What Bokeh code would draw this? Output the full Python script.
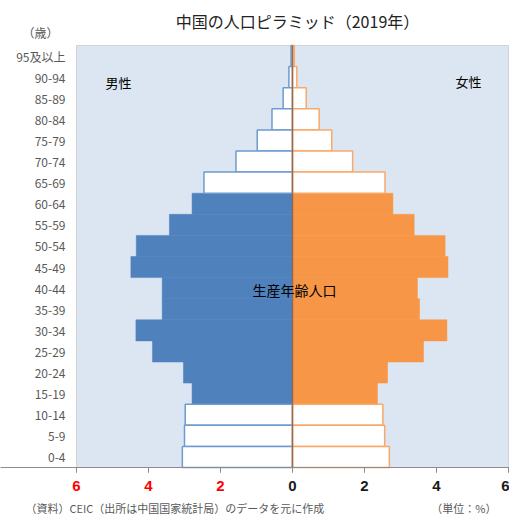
from bokeh.plotting import figure
from bokeh.models import (ColumnDataSource, Range1d, FixedTicker, LinearAxis,
                          Label, BoxAnnotation)
from bokeh.embed import file_html
from bokeh.resources import INLINE

# ---- data (top to bottom, % of total population) ----
ages = ["95及以上", "90-94", "85-89", "80-84", "75-79", "70-74", "65-69",
        "60-64", "55-59", "50-54", "45-49", "40-44", "35-39", "30-34",
        "25-29", "20-24", "15-19", "10-14", "5-9", "0-4"]
male = [0.04, 0.10, 0.26, 0.57, 0.98, 1.57, 2.46,
        2.79, 3.42, 4.34, 4.49, 3.62, 3.62, 4.35,
        3.89, 3.03, 2.79, 2.98, 3.00, 3.06]
female = [0.05, 0.12, 0.38, 0.74, 1.09, 1.67, 2.57,
          2.79, 3.38, 4.24, 4.32, 3.47, 3.53, 4.29,
          3.64, 2.64, 2.36, 2.51, 2.56, 2.69]
productive = ["60-64", "55-59", "50-54", "45-49", "40-44", "35-39", "30-34",
              "25-29", "20-24", "15-19"]
x_ticks = [-6, -4, -2, 0, 2, 4, 6]
x_tick_labels = ["6", "4", "2", "0", "2", "4", "6"]

title_text = "中国の人口ピラミッド（2019年）"
note_text = "（資料）CEIC（出所は中国国家統計局）のデータを元に作成"
unit_text = "（単位：%）"

JP = "Noto Sans CJK JP"
BLUE = "#4F81BD"
ORANGE = "#F79646"
GRAY = "#595959"
FRAME = "#8C8C8C"

n = len(ages)
pos = [n - 1 - i for i in range(n)]          # row index, 0 = youngest at bottom
XMIN, XMAX = -6, 6
YMIN, YMAX = -0.5, n - 0.5

p = figure(width=509, height=517, output_backend="svg", toolbar_location=None,
           x_range=Range1d(-6 - 76 / 36, 6 + 1 / 36),
           y_range=Range1d(-0.5 - 50 / 21.1, n - 0.5 + 45 / 21.1),
           x_axis_location=None, y_axis_location=None,
           min_border=0)
p.background_fill_color = "white"
p.border_fill_color = "white"
p.outline_line_color = None
p.xgrid.grid_line_color = None
p.ygrid.grid_line_color = None

# plot area
p.add_layout(BoxAnnotation(left=XMIN, right=XMAX, bottom=YMIN, top=YMAX,
                           fill_color="#DCE6F2", fill_alpha=1.0,
                           line_color=FRAME, line_width=1, level="underlay"))

def split(vals, filled):
    y, v = [], []
    for age, k, val in zip(ages, pos, vals):
        if (age in productive) == filled:
            y.append(k)
            v.append(val)
    return y, v

for filled in (True, False):
    ym, vm = split(male, filled)
    yf, vf = split(female, filled)
    src_m = ColumnDataSource(dict(y=ym, left=[-x for x in vm], right=[0] * len(vm)))
    src_f = ColumnDataSource(dict(y=yf, left=[0] * len(vf), right=vf))
    if filled:
        p.hbar(y="y", left="left", right="right", height=1.0, source=src_m,
               fill_color=BLUE, line_color=BLUE, line_width=0.5)
        p.hbar(y="y", left="left", right="right", height=1.0, source=src_f,
               fill_color=ORANGE, line_color=ORANGE, line_width=0.5)
    else:
        p.hbar(y="y", left="left", right="right", height=1.0, source=src_m,
               fill_color="white", line_color="#6E9BD0", line_width=1.5)
        p.hbar(y="y", left="left", right="right", height=1.0, source=src_f,
               fill_color="white", line_color="#F9A868", line_width=1.5)

p.segment(x0=[0], y0=[YMIN], x1=[0], y1=[YMAX], line_color="#8E6448",
          line_width=1.5, line_alpha=0.9)

# y axis (age groups)
yaxis = LinearAxis(fixed_location=XMIN,
                   ticker=FixedTicker(ticks=pos),
                   major_label_overrides={k: a for k, a in zip(pos, ages)})
yaxis.major_tick_line_color = None
yaxis.major_tick_in = 0
yaxis.major_tick_out = 0
yaxis.minor_tick_line_color = None
yaxis.axis_line_color = None
yaxis.major_label_text_font = JP
yaxis.major_label_text_font_size = "12px"
yaxis.major_label_text_color = GRAY
yaxis.major_label_standoff = 11
p.add_layout(yaxis, "left")

# x axes: red labels on the male side, black on the female side
for color, keep in (("#FF0000", lambda t: t < 0), ("#1A1A1A", lambda t: t >= 0)):
    ax = LinearAxis(fixed_location=YMIN, ticker=FixedTicker(ticks=x_ticks),
                    major_label_overrides={t: (lab if keep(t) else "")
                                           for t, lab in zip(x_ticks, x_tick_labels)})
    ax.axis_line_color = FRAME
    ax.major_tick_line_color = FRAME
    ax.major_tick_in = 0
    ax.major_tick_out = 5
    ax.minor_tick_line_color = None
    ax.major_label_standoff = 8
    ax.major_label_text_font = "Liberation Sans"
    ax.major_label_text_font_style = "bold"
    ax.major_label_text_font_size = "15px"
    ax.major_label_text_color = color
    p.add_layout(ax, "below")

def to_x(px):
    return XMIN + (px - 76) / 36

def to_y(py):
    return YMIN + (467 - py) / 21.1

def lab(px, py, text, size, color="black", align="center", style="normal"):
    p.add_layout(Label(x=to_x(px), y=to_y(py), text=text, text_font=JP,
                       text_font_size=size, text_color=color, text_align=align,
                       text_baseline="middle", text_font_style=style))

lab(297, 20, title_text, "16px", color="#222222")
lab(40, 32, "（歳）", "12px", color=GRAY)
lab(118, 82, "男性", "13px")
lab(468, 81, "女性", "13px")
lab(294, 289, "生産年齢人口", "14px")
lab(25, 507, note_text, "11px", color=GRAY, align="left")
lab(496, 507, unit_text, "11px", color=GRAY, align="right")

open("out.html", "w").write(file_html(p, INLINE))
